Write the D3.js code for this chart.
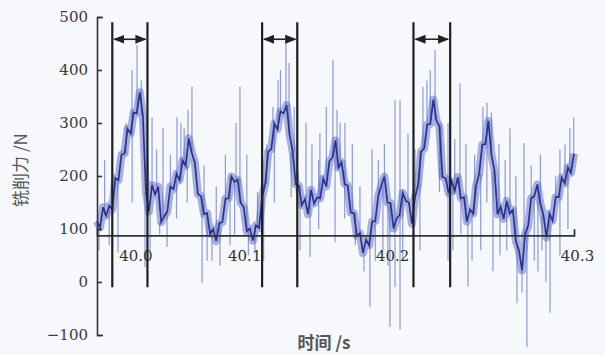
<!DOCTYPE html>
<html>
<head>
<meta charset="utf-8">
<script src="https://cdn.jsdelivr.net/npm/d3@7"></script>
<style>
  html, body { margin: 0; padding: 0; background: #f6f8fb; }
  svg { display: block; }
  .num { font-family: "DejaVu Serif", "Liberation Serif", serif; }
</style>
</head>
<body>
<figure id="force" style="margin:0"></figure>
<script>
// sampled milling force (N), one value every sampleStep seconds from sampleStart
const sampleStart = 39.988;
const sampleStep = 0.002;
const forceMid = [
  115, 103, 141, 125, 144, 137, 196, 192, 240, 242, 289, 280, 320, 318, 358, 314, 170, 133, 183, 165,
  180, 113, 124, 133, 180, 175, 204, 192, 229, 219, 271, 244, 225, 166, 162, 128, 130, 91, 100, 77,
  111, 113, 157, 158, 199, 189, 193, 149, 141, 96, 101, 78, 107, 102, 160, 185, 246, 251, 299, 288,
  322, 318, 334, 278, 246, 184, 182, 145, 156, 128, 174, 148, 160, 158, 195, 180, 228, 235, 267, 216,
  226, 185, 182, 131, 130, 87, 92, 55, 80, 69, 114, 115, 163, 182, 199, 150, 149, 101, 120, 127,
  168, 153, 150, 110, 160, 183, 246, 252, 297, 298, 344, 305, 293, 198, 196, 168, 190, 172, 198, 158,
  160, 114, 137, 129, 182, 205, 259, 260, 304, 240, 210, 128, 142, 119, 153, 129, 136, 76, 60, 22,
  90, 106, 158, 162, 184, 148, 126, 84, 129, 116, 160, 160, 197, 186, 216, 206, 242
];
// thin light spikes: [time, peak value]
const spikesUp = [
  [40.0142, 447], [40.0109, 400], [40.0240, 311], [40.0312, 291], [40.0403, 311], [40.0429, 300],
  [40.0501, 368], [40.0475, 325], [40.0815, 368], [40.0789, 300], [40.1064, 381], [40.1116, 451],
  [40.1136, 413], [40.1031, 330], [40.1247, 300], [40.1338, 281], [40.1286, 260], [40.1423, 419],
  [40.1450, 325], [40.1502, 300], [40.1679, 250], [40.1829, 343], [40.1862, 343], [40.1914, 280],
  [40.2012, 368], [40.2091, 438], [40.2038, 380], [40.2254, 375], [40.2176, 300], [40.2293, 260],
  [40.2431, 338], [40.2404, 330], [40.2581, 290], [40.2509, 260], [40.2673, 262], [40.2908, 250],
  [40.2941, 260], [40.2998, 311], [40.2973, 290],
  [39.993, 230], [40.004, 250], [40.007, 300], [40.017, 380], [40.027, 250], [40.036, 240],
  [40.045, 290], [40.058, 220], [40.066, 180], [40.072, 240], [40.086, 240], [40.093, 170],
  [40.099, 260], [40.108, 400], [40.117, 330], [40.133, 230], [40.138, 330], [40.147, 300],
  [40.155, 260], [40.160, 180], [40.172, 230], [40.176, 260], [40.196, 250], [40.206, 400],
  [40.213, 300], [40.222, 270], [40.235, 240], [40.246, 320], [40.255, 230], [40.262, 200],
  [40.272, 220], [40.278, 240], [40.288, 200]
];
const spikesDown = [
  [39.9893, 60], [40.0017, 55], [40.0194, 28], [40.0227, 60], [40.0338, 66], [40.0567, -2],
  [40.0632, 40], [40.0684, 30], [40.0750, 70], [40.0913, 55], [40.1208, 60], [40.1273, 47],
  [40.1437, 75], [40.1626, 20], [40.1665, -47], [40.1783, 30], [40.1796, -85], [40.1862, -90],
  [40.1829, -10], [40.1992, 60], [40.2176, 40], [40.2208, 60], [40.2306, -9], [40.2333, 40],
  [40.2470, 20], [40.2516, 50], [40.2627, -40], [40.2692, -123], [40.2660, -20], [40.2764, 20],
  [40.2816, 0], [40.2843, -58], [40.2908, 50],
  [39.996, 70], [40.011, 150], [40.029, 90], [40.040, 120], [40.047, 150], [40.060, 40],
  [40.078, 90], [40.087, 50], [40.097, 40], [40.104, 150], [40.115, 160], [40.133, 100],
  [40.150, 120], [40.157, 70], [40.170, 40], [40.175, 60], [40.188, 40], [40.195, 50],
  [40.212, 170], [40.226, 90], [40.239, 60], [40.243, 150], [40.256, 60], [40.274, 40],
  [40.279, 60], [40.296, 100]
];
// marked tool-pass intervals [start, end] (s)
const passes = [[39.998, 40.021], [40.096, 40.119], [40.195, 40.219]];
const xTicks = [40.0, 40.1, 40.2, 40.3];
const xTickLabels = ['40.0', '40.1', '40.2', '40.3'];
const yTicks = [-100, 0, 100, 200, 300, 400, 500];
const baseLine = 88;

const W = 605, H = 355;
const margin = { left: 97, right: 31, top: 17, bottom: 20 };
const labelShift = [20, -24, -29, 3];

const svg = d3.select('figure#force')
  .append('svg')
  .attr('width', W)
  .attr('height', H);

const x = d3.scaleLinear()
  .domain([sampleStart, 40.30])
  .range([margin.left, W - margin.right]);
const y = d3.scaleLinear()
  .domain([-100, 500])
  .range([H - margin.bottom, margin.top]);

const series = forceMid.map((v, i) => ({ t: sampleStart + i * sampleStep, v: v }));
const nearest = t => series[Math.max(0, Math.min(series.length - 1, Math.round((t - sampleStart) / sampleStep)))];

const plot = svg.append('g');

// light hairline spikes
plot.selectAll('line.spike')
  .data(spikesUp.concat(spikesDown))
  .enter()
  .append('line')
  .attr('class', 'spike')
  .attr('x1', d => x(d[0]))
  .attr('x2', d => x(d[0]))
  .attr('y1', d => y(nearest(d[0]).v))
  .attr('y2', d => y(d[1]))
  .style('stroke', '#8d9ad9')
  .style('stroke-width', 1.2);

const line = d3.line()
  .x(d => x(d.t))
  .y(d => y(d.v));

// soft halo band
plot.append('path')
  .datum(series)
  .attr('d', line)
  .style('fill', 'none')
  .style('stroke', '#5868c2')
  .style('stroke-opacity', 0.5)
  .style('stroke-width', 8)
  .style('stroke-linejoin', 'round');
// core trace
plot.append('path')
  .datum(series)
  .attr('d', line)
  .style('fill', 'none')
  .style('stroke', '#27338f')
  .style('stroke-width', 1.7)
  .style('stroke-linejoin', 'miter');

// y axis
const yAxis = svg.append('g')
  .attr('transform', 'translate(' + margin.left + ',0)')
  .call(d3.axisLeft(y).tickValues(yTicks).tickFormat(d3.format('d'))
    .tickSizeInner(-5).tickSizeOuter(-6).tickPadding(9));
yAxis.attr('font-family', null).attr('font-size', null);
yAxis.selectAll('path, line').style('stroke', '#333').style('stroke-width', 1.6);
yAxis.selectAll('text')
  .attr('class', 'num')
  .style('font-size', '15px')
  .style('fill', '#3a3a3a')
  .text(d => d < 0 ? '\u2212' + Math.abs(d) : d);

// horizontal time axis at the base line
const xAxis = svg.append('g')
  .attr('transform', 'translate(0,' + y(baseLine) + ')')
  .call(d3.axisBottom(x).tickValues(xTicks).tickSizeInner(0).tickSizeOuter(-6).tickPadding(15));
xAxis.attr('font-family', null).attr('font-size', null);
xAxis.selectAll('path').style('stroke', '#333').style('stroke-width', 1.8).style('fill', 'none');
xAxis.selectAll('text')
  .attr('class', 'num')
  .attr('dx', (d, i) => labelShift[i])
  .text((d, i) => xTickLabels[i])
  .style('font-size', '15px')
  .style('fill', '#333');

// pass brackets with double arrows
svg.append('defs').append('marker')
  .attr('id', 'arr')
  .attr('viewBox', '0 0 10 10')
  .attr('refX', 9).attr('refY', 5)
  .attr('markerWidth', 7).attr('markerHeight', 7)
  .attr('orient', 'auto-start-reverse')
  .append('path')
  .attr('d', 'M0,1 L10,5 L0,9 Z')
  .style('fill', '#222');

const brackets = svg.append('g');
passes.forEach(p => {
  p.forEach(t => {
    brackets.append('line')
      .attr('x1', x(t)).attr('x2', x(t))
      .attr('y1', y(490)).attr('y2', y(-10))
      .style('stroke', '#1f1f1f')
      .style('stroke-width', 2.2);
  });
  brackets.append('line')
    .attr('x1', x(p[0]) + 2).attr('x2', x(p[1]) - 2)
    .attr('y1', y(458)).attr('y2', y(458))
    .attr('marker-start', 'url(#arr)')
    .attr('marker-end', 'url(#arr)')
    .style('stroke', '#222')
    .style('stroke-width', 1.6);
});

// axis titles
svg.append('text')
  .attr('transform', 'translate(27,' + 170 + ') rotate(-90)')
  .attr('text-anchor', 'middle')
  .style('font-family', '"Noto Sans CJK SC", sans-serif')
  .style('font-size', '17px')
  .style('fill', '#555')
  .text('铣削力 /N');
svg.append('text')
  .attr('x', 324)
  .attr('y', 349)
  .attr('text-anchor', 'middle')
  .style('font-family', '"Noto Sans CJK SC", sans-serif')
  .style('font-size', '17px')
  .style('font-weight', 'bold')
  .style('fill', '#555')
  .text('时间 /s');
</script>
</body>
</html>
